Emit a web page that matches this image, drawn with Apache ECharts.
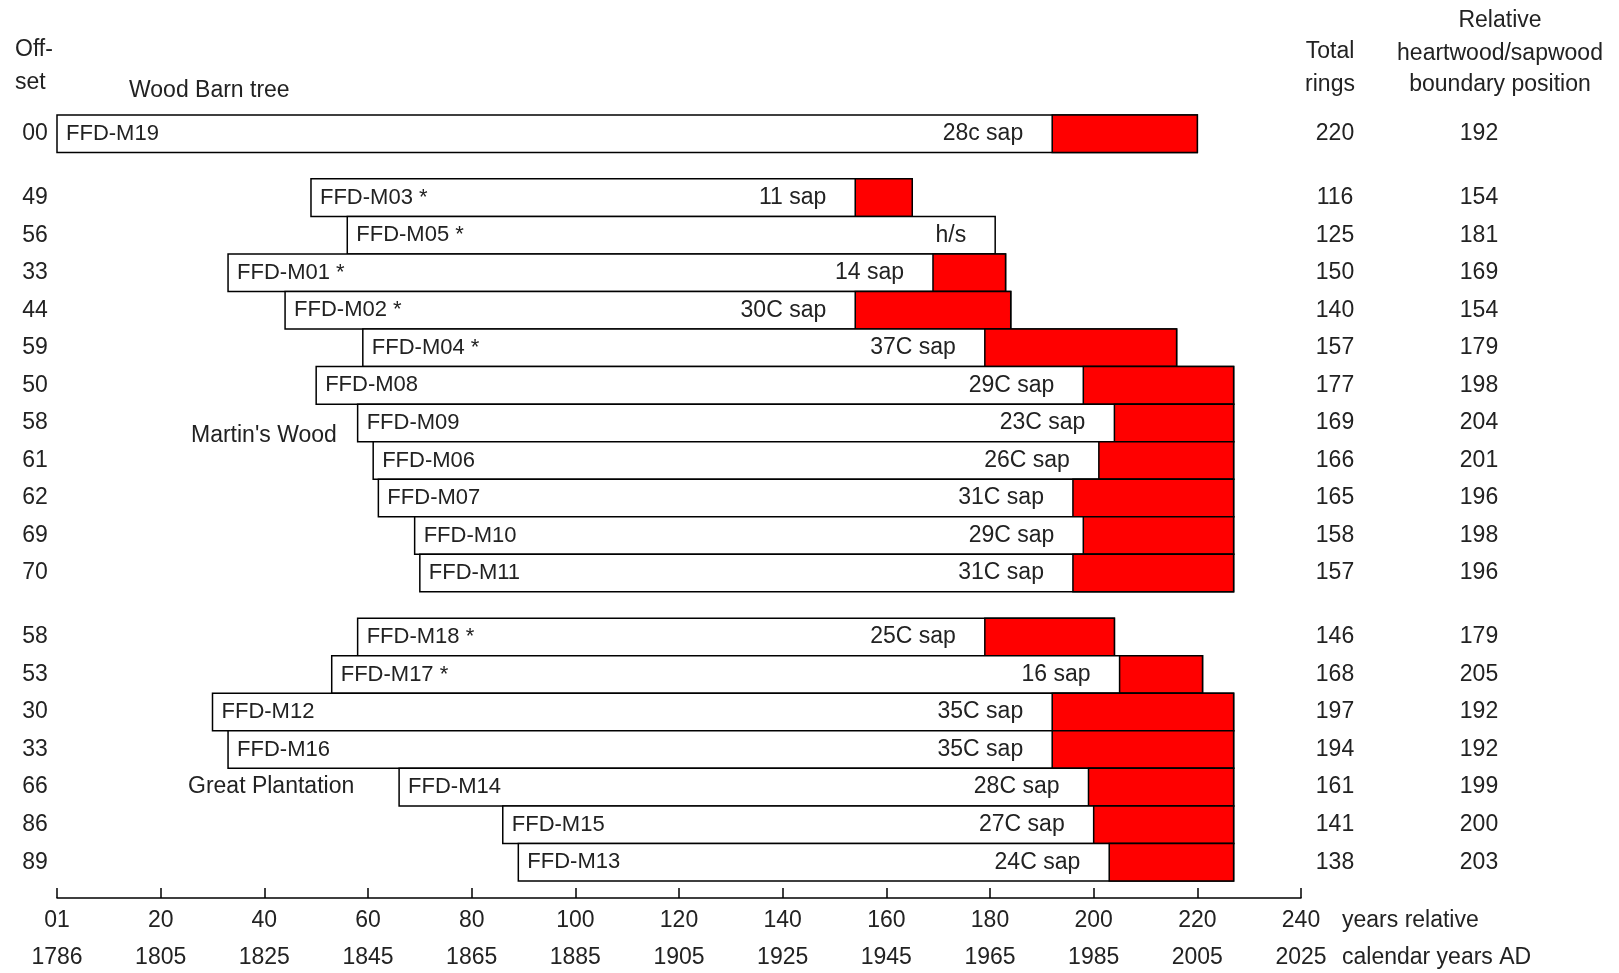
<!DOCTYPE html>
<html>
<head>
<meta charset="utf-8">
<script src="https://cdn.jsdelivr.net/npm/echarts@6/dist/echarts.min.js"></script>
<style>
  html, body { margin: 0; padding: 0; background: #fff; }
  #chart { width: 1619px; height: 973px; }
</style>
</head>
<body>
<div id="chart"></div>
<script>
// Timber samples: offset (relative start year), total rings, heartwood/sapwood boundary
const samples = ['FFD-M19',
  'FFD-M03', 'FFD-M05', 'FFD-M01', 'FFD-M02', 'FFD-M04', 'FFD-M08', 'FFD-M09', 'FFD-M06', 'FFD-M07', 'FFD-M10', 'FFD-M11',
  'FFD-M18', 'FFD-M17', 'FFD-M12', 'FFD-M16', 'FFD-M14', 'FFD-M15', 'FFD-M13'];
const starred = [false,
  true, true, true, true, true, false, false, false, false, false, false,
  true, true, false, false, false, false, false];
const groupOf = [0, 1, 1, 1, 1, 1, 1, 1, 1, 1, 1, 1, 2, 2, 2, 2, 2, 2, 2];
const groupNames = ['Wood Barn tree', "Martin's Wood", 'Great Plantation'];
const offsets = [0, 49, 56, 33, 44, 59, 50, 58, 61, 62, 69, 70, 58, 53, 30, 33, 66, 86, 89];
const totalRings = [220, 116, 125, 150, 140, 157, 177, 169, 166, 165, 158, 157, 146, 168, 197, 194, 161, 141, 138];
const boundaryPos = [192, 154, 181, 169, 154, 179, 198, 204, 201, 196, 198, 196, 179, 205, 192, 192, 199, 200, 203];
const sapNotes = ['28c sap', '11 sap', 'h/s', '14 sap', '30C sap', '37C sap', '29C sap', '23C sap', '26C sap', '31C sap',
  '29C sap', '31C sap', '25C sap', '16 sap', '35C sap', '35C sap', '28C sap', '27C sap', '24C sap'];

// Axis ticks: relative years and matching calendar years
const relTicks = [0, 20, 40, 60, 80, 100, 120, 140, 160, 180, 200, 220, 240];
const relLabels = ['01', '20', '40', '60', '80', '100', '120', '140', '160', '180', '200', '220', '240'];
const calLabels = ['1786', '1805', '1825', '1845', '1865', '1885', '1905', '1925', '1945', '1965', '1985', '2005', '2025'];

const FONT = "'Liberation Sans', Arial, sans-serif";
const FS = 23;        // general text
const FS_NAME = 22;   // sample codes inside the bars
const TXT = '#222';
const GROUP_GAP = 0.7;   // extra space between site groups, in row units

const rowPos = samples.map((_, i) => i + groupOf[i] * GROUP_GAP);
const lastPos = rowPos[rowPos.length - 1];

const data = samples.map((_, i) => [offsets[i], offsets[i] + totalRings[i], boundaryPos[i], rowPos[i]]);

const COL_OFFSET_X = 35, COL_TOTAL_X = 1335, COL_BOUND_X = 1479;

function txt(x, y, text, align, size) {
  return {
    type: 'text',
    style: { x, y, text, fill: TXT, font: (size || FS) + 'px ' + FONT, textAlign: align || 'left', textVerticalAlign: 'middle' }
  };
}

function renderBar(params, api) {
  const i = params.dataIndex;
  const start = api.value(0), end = api.value(1), bnd = api.value(2), pos = api.value(3);
  const pS = api.coord([start, pos]);
  const pE = api.coord([end, pos]);
  const pB = api.coord([bnd, pos]);
  const h = api.size([0, 1])[1];
  const cy = pS[1];
  const top = cy - h / 2;
  const children = [{
    type: 'rect',
    shape: { x: pS[0], y: top, width: pE[0] - pS[0], height: h },
    style: { fill: '#fff', stroke: '#000', lineWidth: 1.5 }
  }];
  if (bnd < end) {
    children.push({
      type: 'rect',
      shape: { x: pB[0], y: top, width: pE[0] - pB[0], height: h },
      style: { fill: '#ff0000', stroke: '#000', lineWidth: 1.5 }
    });
  }
  children.push(txt(pS[0] + 9, cy, samples[i] + (starred[i] ? ' *' : ''), 'left', FS_NAME));
  children.push(txt(pB[0] - 29, cy, sapNotes[i], 'right'));
  children.push(txt(COL_OFFSET_X, cy, String(offsets[i]).padStart(2, '0'), 'center'));
  children.push(txt(COL_TOTAL_X, cy, String(totalRings[i]), 'center'));
  children.push(txt(COL_BOUND_X, cy, String(boundaryPos[i]), 'center'));
  return { type: 'group', children };
}

function gText(left, top, text, align) {
  return {
    type: 'text', x: left, y: top,
    style: { text, fill: TXT, font: FS + 'px ' + FONT, textAlign: align || 'left', textVerticalAlign: 'middle' }
  };
}

const chart = echarts.init(document.getElementById('chart'), null, { renderer: 'canvas' });
chart.setOption({
  backgroundColor: '#fff',
  animation: false,
  grid: { left: 57, top: 115, width: 1244, height: 766, containLabel: false },
  xAxis: {
    type: 'value', min: 0, max: 240, interval: 20, offset: 17,
    axisLine: { show: true, onZero: false, lineStyle: { color: '#000', width: 1.5 } },
    axisTick: { show: true, inside: true, length: 10, lineStyle: { color: '#000', width: 1.5 } },
    splitLine: { show: false },
    axisLabel: {
      margin: 4,
      formatter: (v) => {
        const k = relTicks.indexOf(v);
        return '{r|' + relLabels[k] + '}\n{c|' + calLabels[k] + '}';
      },
      rich: {
        r: { fontFamily: FONT, fontSize: FS, color: TXT, lineHeight: 37, align: 'center' },
        c: { fontFamily: FONT, fontSize: FS, color: TXT, lineHeight: 37, align: 'center' }
      }
    }
  },
  yAxis: {
    type: 'value', inverse: true, min: -0.5, max: lastPos + 0.5, show: false
  },
  series: [{
    type: 'custom',
    renderItem: renderBar,
    encode: { x: [0, 1, 2], y: 3 },
    data: data,
    clip: false
  }],
  graphic: [
    gText(15, 50, 'Off-'),
    gText(15, 83, 'set'),
    gText(129, 91, groupNames[0]),
    gText(191, 436, groupNames[1]),
    gText(188, 787, groupNames[2]),
    gText(1330, 52, 'Total', 'center'),
    gText(1330, 85, 'rings', 'center'),
    gText(1500, 21, 'Relative', 'center'),
    gText(1500, 54, 'heartwood/sapwood', 'center'),
    gText(1500, 85, 'boundary position', 'center'),
    gText(1342, 921, 'years relative'),
    gText(1342, 958, 'calendar years AD')
  ]
});
</script>
</body>
</html>
